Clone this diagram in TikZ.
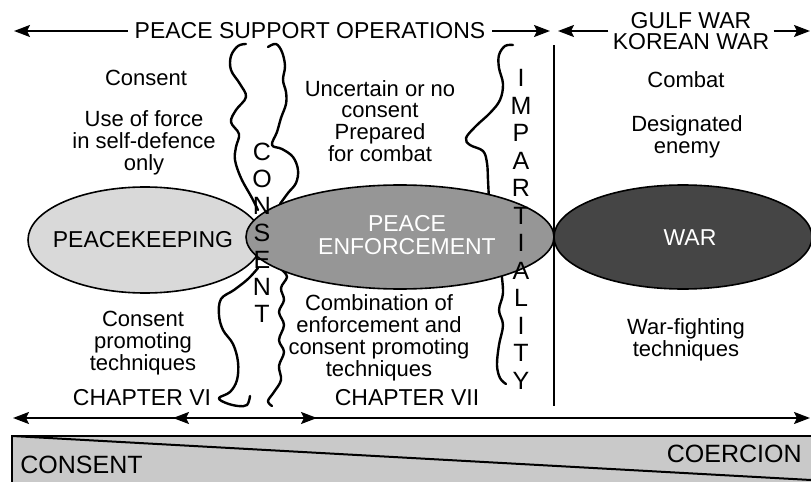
\documentclass[tikz,border=0pt]{standalone}
\usepackage{fontspec}
\setmainfont{Liberation Sans}
\usepackage{tikz}
\usetikzlibrary{arrows.meta}

\definecolor{keepgray}{gray}{0.85}
\definecolor{enforcegray}{gray}{0.59}
\definecolor{wargray}{gray}{0.27}
\definecolor{bargray}{gray}{0.79}

\tikzset{
  body/.style={align=center, inner sep=0pt, font=\fontsize{11}{10.9}\selectfont},
  caps/.style={align=center, font=\fontsize{11.5}{11.5}\selectfont},
  letter/.style={inner sep=0pt, font=\fontsize{12.5}{12.5}\selectfont},
  wave/.style={line width=1.2pt, line cap=round, line join=round},
  oval/.style={draw=black, line width=0.8pt},
}

\begin{document}
\begin{tikzpicture}[x=0.5pt, y=-0.5pt, >={Stealth[length=8pt,width=6pt,inset=1.5pt]}]
\useasboundingbox (0,0) rectangle (811,482);

% Consent / coercion bar
\fill[bargray] (12,436) rectangle (811,482);
\draw[line width=1.4pt] (811,436) -- (12,436) -- (12,482);
\draw[line width=1pt] (12,436) -- (811,480);
\node[anchor=west, inner sep=0pt, font=\fontsize{12.5}{12.5}\selectfont] (consentEnd) at (20,465) {CONSENT};
\node[anchor=east, inner sep=0pt, font=\fontsize{12.5}{12.5}\selectfont] (coercionEnd) at (802,454) {COERCION};

% Top arrows
\node[caps] (pso) at (310,31) {PEACE SUPPORT OPERATIONS};
\coordinate (psoL) at (14,31);
\coordinate (psoR) at (550,31);
\draw[->, line width=1pt] (pso) -- (psoL);
\draw[->, line width=1pt] (pso) -- (psoR);
\node[caps, inner sep=2pt, font=\fontsize{11.5}{10.5}\selectfont] (gulf) at (691,31) {GULF WAR\\KOREAN WAR};
\coordinate (gulfL) at (558,31);
\coordinate (gulfR) at (810,31);
\draw[->, line width=1pt] (gulf) -- (gulfL);
\draw[->, line width=1pt] (gulf) -- (gulfR);

% Chapter arrows
\coordinate (sixL) at (13,418);
\coordinate (sixR) at (317,418);
\coordinate (sevenL) at (173,418);
\coordinate (sevenR) at (810,418);
\draw[<->, line width=1pt] (sixL) -- (sixR);
\draw[<->, line width=1pt] (sevenL) -- (sevenR);

% Divider
\coordinate (divTop) at (554,45);
\coordinate (divBot) at (554,406);
\draw[line width=0.8pt] (divTop) -- (divBot);

% Consent band
\draw[wave] plot[smooth, tension=0.6] coordinates {(246,44) (238,46) (231,56) (231,70) (240,84) (246,97) (236,110) (231,122) (239,134) (236,147) (235,160) (241,178) (252,198) (258,210)};
\draw[wave] plot[smooth, tension=0.6] coordinates {(268,47) (276,44) (282,52) (285,66) (283,80) (286,92) (286,104) (281,118) (277,132) (272,145) (282,149) (293,157) (298,170) (296,183) (288,193) (280,204)};
\draw[wave] plot[smooth, tension=0.6] coordinates {(258,268) (248,279) (234,290) (221,299) (219,315) (223,330) (233,344) (238,362) (237,380) (230,392) (219,398) (226,403) (238,406) (247,405) (250,396)};
\draw[wave] plot[smooth, tension=0.6] coordinates {(282,270) (287,277) (281,288) (284,300) (279,312) (284,325) (279,340) (284,352) (279,366) (281,380) (274,392) (268,401) (272,406)};

% Impartiality band
\draw[wave] plot[smooth, tension=0.6] coordinates {(513,45) (505,46) (499,55) (499,68) (503,84) (500,100) (490,113) (476,126) (466,138) (470,145) (483,151) (487,163) (488,180) (489,200)};
\draw[wave] plot[smooth, tension=0.6] coordinates {(501,270) (503,293) (499,310) (503,325) (499,345) (497,365) (500,378) (506,384)};

% Ellipses
\filldraw[oval, fill=keepgray] (145,240) ellipse [x radius=117, y radius=53];
\filldraw[oval, fill=wargray] (683,237) ellipse [x radius=129, y radius=52];
\filldraw[oval, fill=enforcegray] (400,237) ellipse [x radius=154, y radius=52];
\node[caps, inner sep=0pt] (pkText) at (143,240) {PEACEKEEPING};
\node[caps, inner sep=0pt, text=white] (peText) at (407,235) {PEACE\\ENFORCEMENT};
\node[caps, inner sep=0pt, text=white] (warText) at (690,238) {WAR};

% Vertical words
\foreach \ch [count=\i from 0] in {C,O,N,S,E,N,T}
  \node[letter] (cons\i) at (262,{152+27*\i}) {\ch};
\foreach \ch [count=\i from 0] in {I,M,P,A,R,T,I,A,L,I,T,Y}
  \node[letter] (imp\i) at (521,{78+27.5*\i}) {\ch};

% Upper texts
\node[body] (consentTop) at (146,78) {Consent};
\node[body] (forceText) at (144,143) {Use of force\\in self-defence\\only};
\node[body] (uncertainText) at (380,121) {Uncertain or no\\consent\\Prepared\\for combat};
\node[body] (combatText) at (686,80) {Combat};
\node[body] (enemyText) at (687,137) {Designated\\enemy};

% Lower texts
\node[body] (promoteText) at (143,343) {Consent\\promoting\\techniques};
\node[body] (combText) at (379,338) {Combination of\\enforcement and\\consent promoting\\techniques};
\node[body] (warfightText) at (686,340) {War-fighting\\techniques};
\node[caps, inner sep=0pt] (chapSix) at (142,398) {CHAPTER VI};
\node[caps, inner sep=0pt] (chapSeven) at (407,398) {CHAPTER VII};
\end{tikzpicture}
\end{document}
